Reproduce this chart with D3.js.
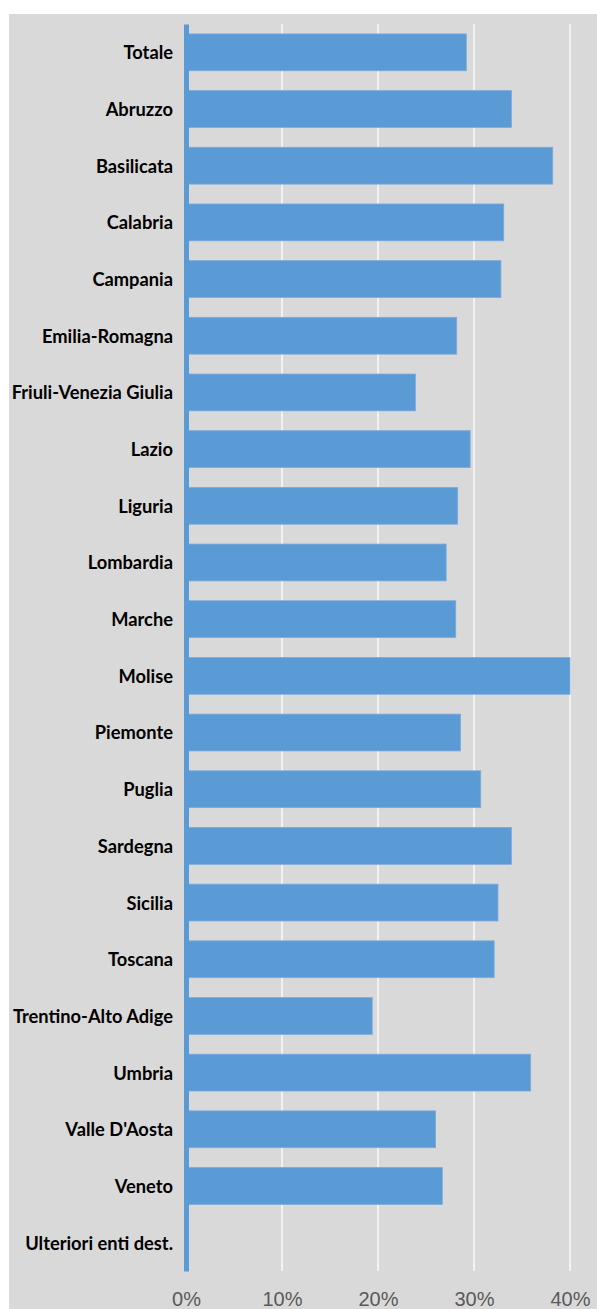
<!DOCTYPE html>
<html>
<head>
<meta charset="utf-8">
<script src="https://cdn.jsdelivr.net/npm/d3@7"></script>
<style>
  html, body { margin: 0; padding: 0; background: #ffffff; }
  svg { display: block; }
</style>
</head>
<body>
<svg id="chart" width="597" height="1309"></svg>
<script>
const categories = ["Totale", "Abruzzo", "Basilicata", "Calabria", "Campania", "Emilia-Romagna",
  "Friuli-Venezia Giulia", "Lazio", "Liguria", "Lombardia", "Marche", "Molise", "Piemonte",
  "Puglia", "Sardegna", "Sicilia", "Toscana", "Trentino-Alto Adige", "Umbria",
  "Valle D'Aosta", "Veneto", "Ulteriori enti dest."];
const values = [29.2, 33.9, 38.2, 33.1, 32.8, 28.2, 23.9, 29.6, 28.3, 27.1, 28.1, 40.0, 28.6,
  30.7, 33.9, 32.5, 32.1, 19.4, 35.9, 26.0, 26.7, 0];
const tickValues = [0, 10, 20, 30, 40];
const tickLabels = ["0%", "10%", "20%", "30%", "40%"];

const svg = d3.select("#chart");
const W = 597, H = 1309;

// background panel
svg.append("rect").attr("x", 9).attr("y", 14).attr("width", W - 9).attr("height", H - 14)
  .attr("fill", "#d9d9d9");

const x = d3.scaleLinear().domain([0, 40]).range([186, 570]);
const y = d3.scaleBand().domain(categories).range([24, 1271]).paddingInner(0.35).paddingOuter(0.175);

// gridlines
svg.append("g").selectAll("line").data(tickValues.filter(d => d > 0)).join("line")
  .attr("x1", d => x(d)).attr("x2", d => x(d))
  .attr("y1", 24).attr("y2", 1271)
  .attr("stroke", "#f2f2f2").attr("stroke-width", 2);

// bars
svg.append("g").selectAll("rect").data(categories).join("rect")
  .attr("x", x(0))
  .attr("y", d => y(d))
  .attr("width", (d, i) => x(values[i]) - x(0))
  .attr("height", y.bandwidth())
  .attr("fill", "#5b9bd5")
  .attr("stroke", "#7eaadb")
  .attr("stroke-width", (d, i) => values[i] > 0 ? 0.8 : 0);

// category axis (left) with blue line
const yAxis = d3.axisLeft(y).tickSize(0).tickPadding(13);
const gy = svg.append("g").attr("transform", `translate(${x(0)},0)`).call(yAxis);
gy.select(".domain").attr("stroke", "#5b9bd5").attr("stroke-width", 5);
gy.selectAll("text")
  .attr("font-family", "Lato, 'Open Sans', sans-serif")
  .attr("font-weight", "bold")
  .attr("font-size", "18.3px")
  .attr("fill", "#000000")
  .attr("dy", "0.38em");

// value axis (bottom)
const xAxis = d3.axisBottom(x).tickValues(tickValues).tickFormat((d, i) => tickLabels[i]).tickSize(0).tickPadding(0);
const gx = svg.append("g").attr("transform", `translate(0,1306)`).call(xAxis);
gx.select(".domain").remove();
gx.selectAll("text")
  .attr("dy", "0")
  .attr("font-family", "'Liberation Sans Narrow', 'Liberation Sans', sans-serif")
  .attr("font-size", "20px")
  .attr("fill", "#595959");
</script>
</body>
</html>
